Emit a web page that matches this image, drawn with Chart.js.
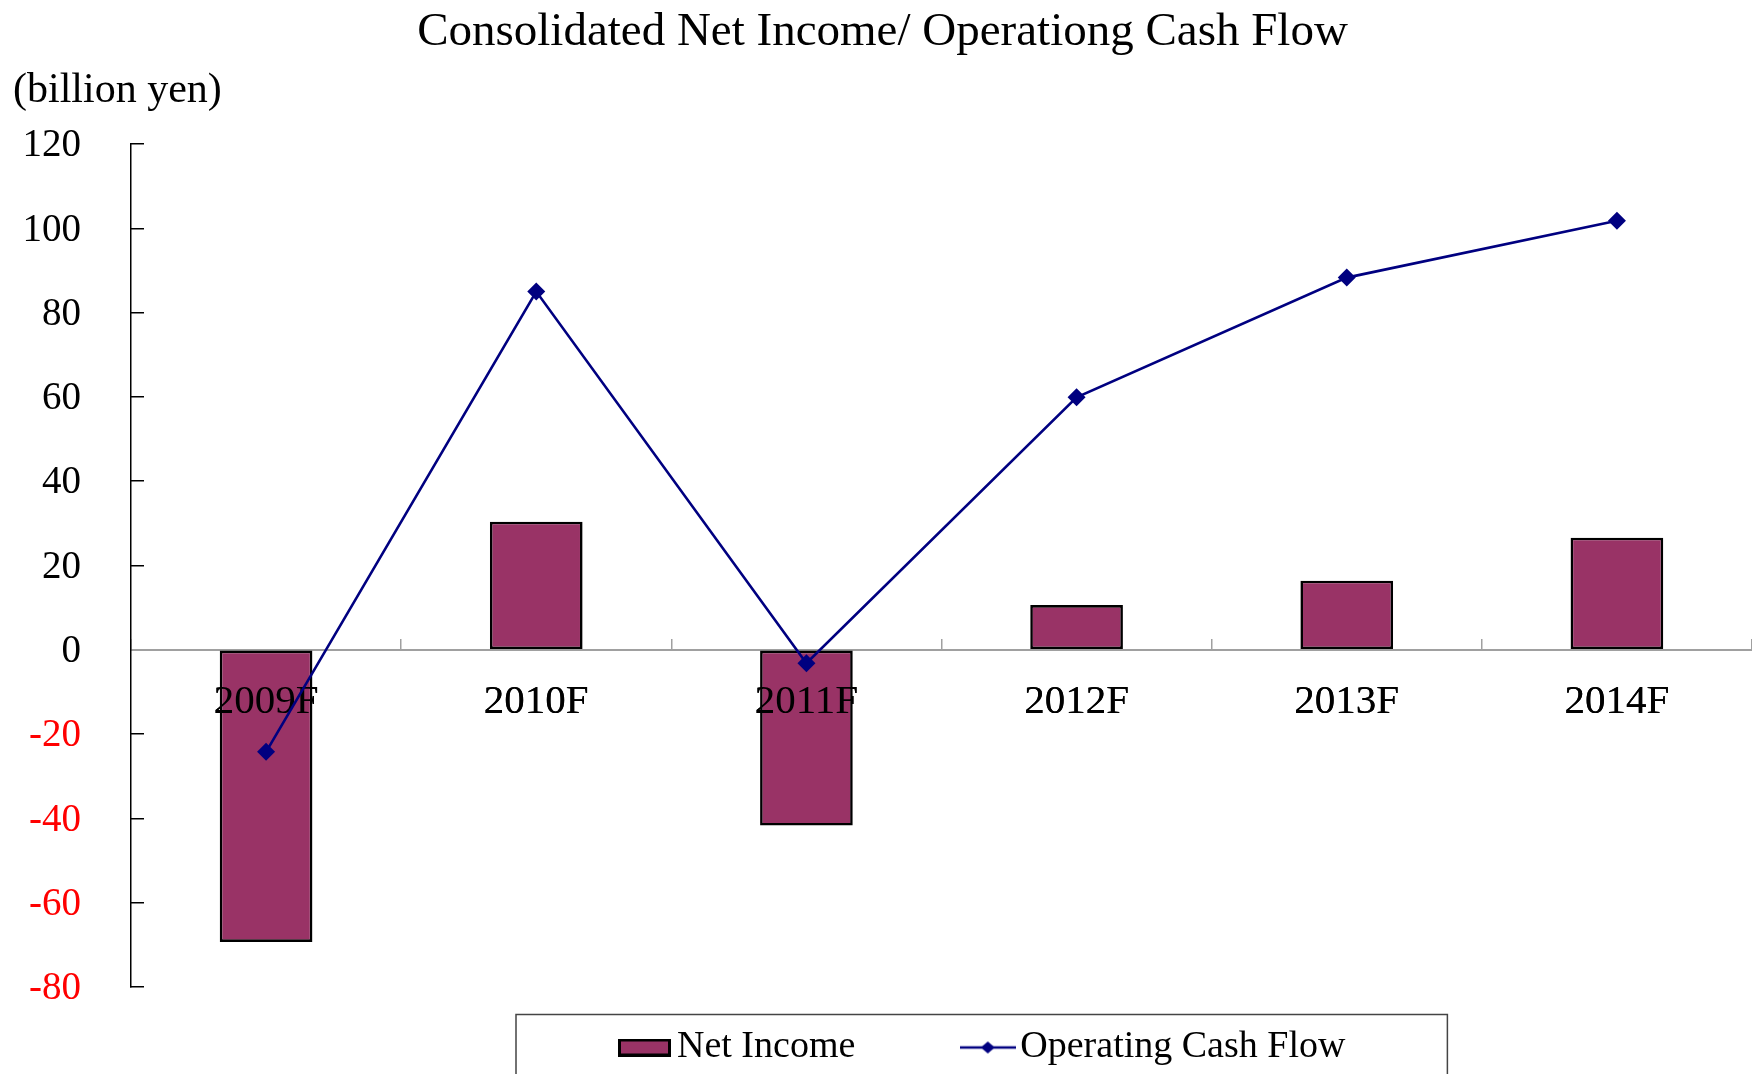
<!DOCTYPE html>
<html>
<head>
<meta charset="utf-8">
<title>Consolidated Net Income/ Operationg Cash Flow</title>
<script src="https://cdn.jsdelivr.net/npm/chart.js@4.4.1/dist/chart.umd.min.js"></script>
<style>
    html, body { margin: 0; padding: 0; background: #fff; }
    #wrap { width: 1752px; height: 1074px; position: relative; }
</style>
</head>
<body>
<div id="wrap"><canvas id="myChart"></canvas></div>
<script>
var categories = ['2009F', '2010F', '2011F', '2012F', '2013F', '2014F'];
var netIncome = [-69.3, 30.4, -41.7, 10.6, 16.4, 26.6];
var operatingCashFlow = [-24.2, 85.0, -3.2, 59.9, 88.3, 101.8];
var yMin = -80;
var yMax = 120;
var yStep = 20;

var colorBar = '#993366';
var colorLine = '#000080';
var fontFamily = "'Liberation Serif', 'Times New Roman', serif";

Chart.defaults.font.family = fontFamily;
Chart.defaults.color = '#000';

// legend markers (drawn on small canvases, used as point styles)
function barSwatch() {
    var c = document.createElement('canvas');
    c.width = 53;
    c.height = 18;
    var g = c.getContext('2d');
    g.fillStyle = colorBar;
    g.fillRect(0, 0, 53, 18);
    g.lineWidth = 3;
    g.strokeStyle = '#000';
    g.strokeRect(1.5, 1.5, 50, 15);
    return c;
}

function lineSwatch() {
    var c = document.createElement('canvas');
    c.width = 56;
    c.height = 16;
    var g = c.getContext('2d');
    g.strokeStyle = colorLine;
    g.lineWidth = 2.5;
    g.beginPath();
    g.moveTo(0, 8);
    g.lineTo(56, 8);
    g.stroke();
    g.fillStyle = colorLine;
    g.beginPath();
    g.moveTo(28, 2);
    g.lineTo(35, 8);
    g.lineTo(28, 14);
    g.lineTo(21, 8);
    g.closePath();
    g.fill();
    return c;
}

// moves the legend into its framed box and draws the frame
var legendFrame = {
    id: 'legendFrame',
    afterLayout: function (chart) {
        var lg = chart.legend;
        var w = lg.width;
        lg.left = chart.chartArea.left + 381;
        lg.right = lg.left + w;
        lg.top = chart.chartArea.bottom - 77.5;
        lg.bottom = chart.height;
        lg.height = lg.bottom - lg.top;
    },
    afterDatasetDraw: function (chart, args) {
        // category labels sit above the bars but below the line
        if (args.index === 0) {
            chart.scales.x.drawLabels(chart.chartArea);
        }
    },
    afterDraw: function (chart) {
        var lg = chart.legend;
        var boxes = lg.legendHitBoxes;
        var last = boxes[boxes.length - 1];
        var ctx = chart.ctx;
        var top = boxes[0].top - 14;
        var left = lg.left + 4;
        var right = last.left + last.width + 102;
        ctx.save();
        ctx.strokeStyle = '#444';
        ctx.lineWidth = 1.5;
        ctx.strokeRect(left, top, right - left, chart.height - top + 10);
        ctx.restore();
    }
};

var ctx = document.getElementById('myChart');
var myChart = new Chart(ctx, {
    type: 'bar',
    data: {
        labels: categories,
        datasets: [{
            type: 'bar',
            label: 'Net Income',
            data: netIncome,
            backgroundColor: colorBar,
            borderColor: '#000',
            borderWidth: 2.6,
            borderSkipped: false,
            barPercentage: 0.343,
            categoryPercentage: 1,
            order: 2
        }, {
            type: 'line',
            label: 'Operating Cash Flow',
            data: operatingCashFlow,
            borderColor: colorLine,
            backgroundColor: colorLine,
            borderWidth: 2.6,
            pointStyle: 'rectRot',
            pointRadius: 9,
            pointBorderWidth: 0,
            pointBackgroundColor: colorLine,
            fill: false,
            tension: 0,
            order: 1
        }]
    },
    options: {
        responsive: true,
        maintainAspectRatio: false,
        animation: false,
        devicePixelRatio: 1,
        layout: {
            autoPadding: false,
            padding: { left: 13, right: 0, top: 0, bottom: 0 }
        },
        plugins: {
            title: {
                display: true,
                text: 'Consolidated Net Income/ Operationg Cash Flow',
                color: '#000',
                font: { size: 47, weight: 'normal', lineHeight: 1 },
                padding: { top: 9, bottom: 0 }
            },
            subtitle: {
                display: true,
                text: '(billion yen)',
                align: 'start',
                color: '#000',
                font: { size: 42, weight: 'normal', lineHeight: 1 },
                padding: { top: 14, bottom: 32 }
            },
            legend: {
                display: true,
                position: 'bottom',
                align: 'start',
                maxHeight: 87,
                labels: {
                    usePointStyle: true,
                    pointStyleWidth: 27,
                    padding: 119,
                    color: '#000',
                    font: { size: 38 },
                    generateLabels: function (chart) {
                        var items = Chart.defaults.plugins.legend.labels.generateLabels(chart);
                        items.sort(function (a, b) { return a.datasetIndex - b.datasetIndex; });
                        items.forEach(function (it) {
                            it.pointStyle = it.datasetIndex === 0 ? barSwatch() : lineSwatch();
                        });
                        return items;
                    }
                }
            },
            tooltip: { enabled: false }
        },
        scales: {
            x: {
                type: 'category',
                position: { y: 0 },
                offset: true,
                afterFit: function (scale) {
                    scale.height = 0;
                },
                border: { display: true, color: '#a0a0a0', width: 2 },
                grid: {
                    display: true,
                    offset: true,
                    drawOnChartArea: false,
                    drawTicks: true,
                    tickLength: -12,
                    color: '#a0a0a0',
                    lineWidth: 1.5
                },
                ticks: {
                    padding: 39.5,
                    color: '#000',
                    maxRotation: 0,
                    autoSkip: false,
                    font: { size: 41, lineHeight: 1.2 }
                }
            },
            y: {
                min: yMin,
                max: yMax,
                afterFit: function (scale) {
                    scale.width = 118;
                },
                border: { display: true, color: '#000', width: 1.5 },
                grid: {
                    drawOnChartArea: false,
                    drawTicks: true,
                    tickLength: -13,
                    color: '#000',
                    lineWidth: 1.5
                },
                ticks: {
                    stepSize: yStep,
                    padding: 63,
                    labelOffset: 2,
                    font: { size: 39 },
                    color: function (c) {
                        return c.tick && c.tick.value < 0 ? '#FF0000' : '#000000';
                    }
                }
            }
        }
    },
    plugins: [legendFrame]
});
</script>
</body>
</html>
